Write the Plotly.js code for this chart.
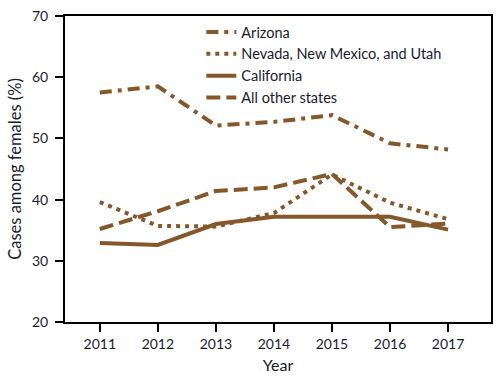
<!DOCTYPE html>
<html>
<head>
<meta charset="utf-8">
<script src="https://cdn.plot.ly/plotly-3.0.1.min.js"></script>
<style>html,body{margin:0;padding:0;background:#fff;}#chart{width:499px;height:381px;}</style>
</head>
<body>
<div id="chart"></div>
<script>
var years = [2011, 2012, 2013, 2014, 2015, 2016, 2017];
var seriesNames = ["Arizona", "Nevada, New Mexico, and Utah", "California", "All other states"];
var arizona = [57.5, 58.5, 52.1, 52.7, 53.8, 49.2, 48.2];
var nevadaNMUtah = [39.6, 35.7, 35.6, 37.8, 44.1, 39.5, 36.8];
var california = [32.9, 32.6, 36.0, 37.2, 37.2, 37.2, 35.1];
var allOther = [35.2, 38.1, 41.4, 42.0, 44.2, 35.5, 36.1];
var yTicks = [20, 30, 40, 50, 60, 70];

var color = "#84582a";
var dashes = ["12px,6px,4px,6px", "4px,5px", "solid", "14px,6px"];
var data = [arizona, nevadaNMUtah, california, allOther];

var traces = data.map(function (vals, i) {
  return {
    x: years, y: vals, name: seriesNames[i], type: "scatter", mode: "lines",
    line: {color: color, width: 4, dash: dashes[i]}
  };
});

var layout = {
  width: 499, height: 381,
  margin: {l: 65, r: 8, t: 16, b: 59},
  paper_bgcolor: "#fff", plot_bgcolor: "#fff",
  font: {family: "Lato, 'Open Sans', sans-serif", color: "#1a1a2e", size: 14},
  showlegend: true,
  legend: {x: 0.32, y: 1, xanchor: "left", yanchor: "top", bgcolor: "rgba(0,0,0,0)",
           font: {size: 14.5}},
  xaxis: {
    range: [2010.4, 2017.74], tickvals: years, ticktext: years.map(String),
    showgrid: false, zeroline: false, showline: true, linecolor: "#000", linewidth: 2,
    mirror: true, ticks: "outside", ticklen: 8, tickwidth: 2, tickcolor: "#000",
    title: {text: "Year", font: {size: 16}, standoff: 9}
  },
  yaxis: {
    range: [20, 70], tickvals: yTicks,
    showgrid: false, zeroline: false, showline: true, linecolor: "#000", linewidth: 2,
    mirror: true, ticks: "outside", ticklen: 8, tickwidth: 2, tickcolor: "#000",
    ticklabelstandoff: 4,
    title: {text: "Cases among females (%)", font: {size: 16.5}, standoff: 6}
  }
};

Plotly.newPlot("chart", traces, layout, {displayModeBar: false, staticPlot: true});
</script>
</body>
</html>
